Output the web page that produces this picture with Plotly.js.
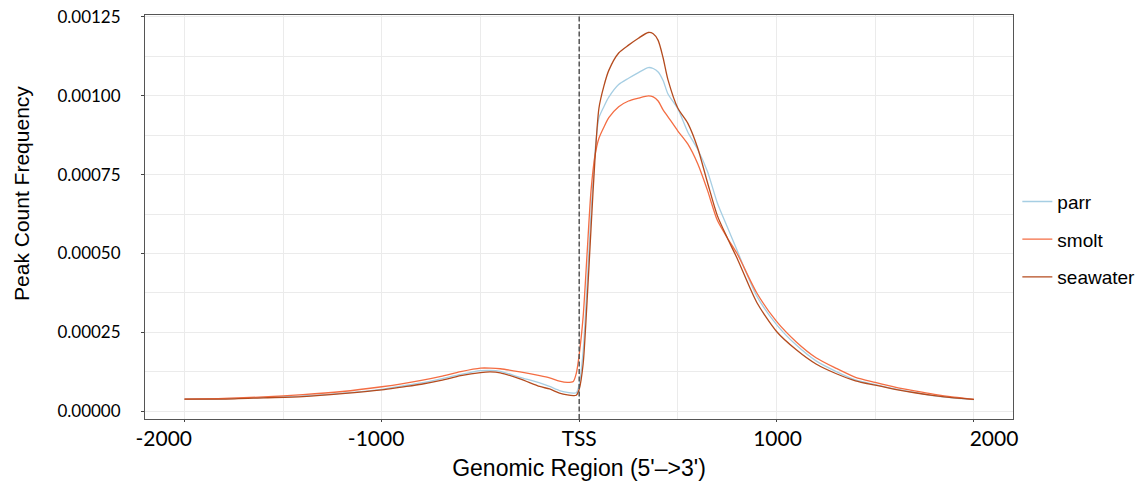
<!DOCTYPE html>
<html>
<head>
<meta charset="utf-8">
<script src="https://cdn.plot.ly/plotly-3.0.1.min.js"></script>
<style>html,body{margin:0;padding:0;background:#fff;}#chart{width:1139px;height:481px;}</style>
</head>
<body>
<div id="chart"></div>
<script>
// Genomic position relative to TSS (bp)
var positions = [-2000,-1800,-1600,-1400,-1200,-1000,-900,-800,-700,-600,-500,-450,-400,-300,-200,-150,-100,-60,-30,-15,0,20,40,60,80,100,125,150,200,250,300,350,375,400,425,450,500,550,600,650,700,750,800,900,1000,1100,1200,1300,1400,1500,1600,1700,1800,1900,2000];

var parr = [3.9e-5,4.0e-5,4.4e-5,4.9e-5,5.8e-5,7.0e-5,8.0e-5,9.0e-5,10.3e-5,11.7e-5,12.9e-5,13.0e-5,12.7e-5,10.8e-5,9.0e-5,7.9e-5,6.6e-5,6.0e-5,5.8e-5,5.9e-5,8.5e-5,19e-5,40e-5,63e-5,82e-5,93e-5,96.5e-5,99.5e-5,103.5e-5,105.5e-5,107.3e-5,108.9e-5,108.6e-5,107.5e-5,104.8e-5,100.5e-5,95.8e-5,88.5e-5,83e-5,76e-5,66e-5,58.5e-5,51e-5,36.5e-5,27.5e-5,21e-5,16e-5,12.7e-5,10.0e-5,8.5e-5,7.1e-5,6.0e-5,4.9e-5,4.2e-5,3.7e-5];

var smolt = [3.9e-5,4.1e-5,4.6e-5,5.3e-5,6.3e-5,7.8e-5,8.7e-5,9.8e-5,11.1e-5,12.6e-5,13.7e-5,13.7e-5,13.5e-5,12.5e-5,11.3e-5,10.6e-5,9.6e-5,9.2e-5,9.5e-5,12e-5,18e-5,30e-5,50e-5,70e-5,81e-5,86.5e-5,90e-5,93e-5,96.5e-5,98.3e-5,99.2e-5,99.9e-5,99.6e-5,98.3e-5,95.5e-5,93.3e-5,88.8e-5,84.7e-5,78.5e-5,70e-5,60.5e-5,55e-5,50e-5,37.5e-5,28.5e-5,22e-5,17e-5,13.7e-5,10.8e-5,9.2e-5,7.7e-5,6.5e-5,5.4e-5,4.5e-5,3.8e-5];

var seawater = [3.9e-5,3.9e-5,4.3e-5,4.7e-5,5.6e-5,6.8e-5,7.7e-5,8.6e-5,9.8e-5,11.3e-5,12.3e-5,12.5e-5,12.2e-5,10.3e-5,7.9e-5,7.1e-5,5.8e-5,5.2e-5,5.0e-5,5.1e-5,7e-5,15e-5,35e-5,58e-5,80e-5,96e-5,103e-5,108e-5,113.5e-5,116e-5,118.2e-5,120e-5,119.6e-5,117.5e-5,112e-5,105e-5,96e-5,91.3e-5,83.5e-5,72.5e-5,62e-5,55e-5,48.5e-5,34.5e-5,25.3e-5,19.5e-5,15e-5,12e-5,9.7e-5,8.3e-5,7.0e-5,5.9e-5,5.0e-5,4.3e-5,3.8e-5];

var seriesNames = ['parr','smolt','seawater'];
var seriesColors = ['#a6cee3','#f46d43','#b44b1e'];

var yTickVals = [0,0.00025,0.0005,0.00075,0.001,0.00125];
var yTickText = ['0.00000','0.00025','0.00050','0.00075','0.00100','0.00125'];
var xTickText = ['-2000','-1000','TSS','1000','2000'];
var xLabelPos = [-2105,-1029,0,1005,2102];

var seriesData = [parr, smolt, seawater];
var traces = seriesData.map(function(d,i){
  return {
    type:'scatter', mode:'lines', x:positions, y:d, name:seriesNames[i],
    legendgroup:seriesNames[i],
    line:{color:seriesColors[i], width:1.3, shape:'spline', smoothing:0.7},
    hoverinfo:'skip'
  };
});
// invisible trace to activate label axis
traces.push({type:'scatter', mode:'none', x:[-2000,2000], y:[0,0], xaxis:'x2', showlegend:false, hoverinfo:'skip'});

var gridC = '#ebebeb';
var layout = {
  width:1139, height:481,
  margin:{l:145, r:126, t:15, b:62, autoexpand:false},
  paper_bgcolor:'#fff', plot_bgcolor:'#fff',
  font:{family:'Liberation Sans, Arial, sans-serif', color:'#000'},
  showlegend:true,
  legend:{x:1.005, xanchor:'left', y:0.585, yanchor:'top', font:{size:19, family:'Liberation Sans, Arial, sans-serif', color:'#000'}, tracegroupgap:10, bgcolor:'rgba(0,0,0,0)'},
  xaxis:{
    range:[-2200,2198], tickmode:'linear', tick0:0, dtick:1000,
    showticklabels:false, ticks:'outside', ticklen:2, tickcolor:'#444',
    showgrid:true, gridcolor:gridC, gridwidth:1,
    minor:{tickmode:'linear', tick0:0, dtick:500, showgrid:true, gridcolor:gridC, gridwidth:1, ticks:''},
    showline:true, linecolor:'#555', linewidth:1, mirror:true, zeroline:false,
    title:{text:"Genomic Region (5'–>3')", font:{size:23, family:'Liberation Sans, Arial, sans-serif'}, standoff:38}
  },
  xaxis2:{
    overlaying:'x', anchor:'y', side:'bottom', range:[-2200,2198],
    tickmode:'array', tickvals:xLabelPos, ticktext:xTickText,
    tickfont:{size:21, family:'Lato, sans-serif', color:'#000'},
    ticks:'', showgrid:false, showline:false, zeroline:false, ticklabelstandoff:5
  },
  yaxis:{
    range:[-0.0000241,0.0012554], tickmode:'array', tickvals:yTickVals, ticktext:yTickText,
    tickfont:{size:17, family:'Lato, sans-serif', color:'#000'},
    ticks:'outside', ticklen:3, tickcolor:'#444', ticklabelstandoff:17,
    showgrid:true, gridcolor:gridC, gridwidth:1,
    minor:{tickmode:'linear', tick0:0, dtick:0.000125, showgrid:true, gridcolor:gridC, gridwidth:1, ticks:''},
    showline:true, linecolor:'#555', linewidth:1, mirror:true, zeroline:false
  },
  annotations:[{
    text:'Peak Count Frequency', xref:'paper', yref:'paper', x:-0.1417, y:0.557,
    xanchor:'center', yanchor:'middle', textangle:-90, showarrow:false,
    font:{size:21, family:'Liberation Sans, Arial, sans-serif', color:'#000'}
  }],
  shapes:[{type:'line', xref:'x', yref:'paper', x0:0, x1:0, y0:0, y1:1, line:{color:'#555', width:1.5, dash:'5px,2.5px'}}]
};

Plotly.newPlot('chart', traces, layout, {staticPlot:true, displayModeBar:false});
</script>
</body>
</html>
